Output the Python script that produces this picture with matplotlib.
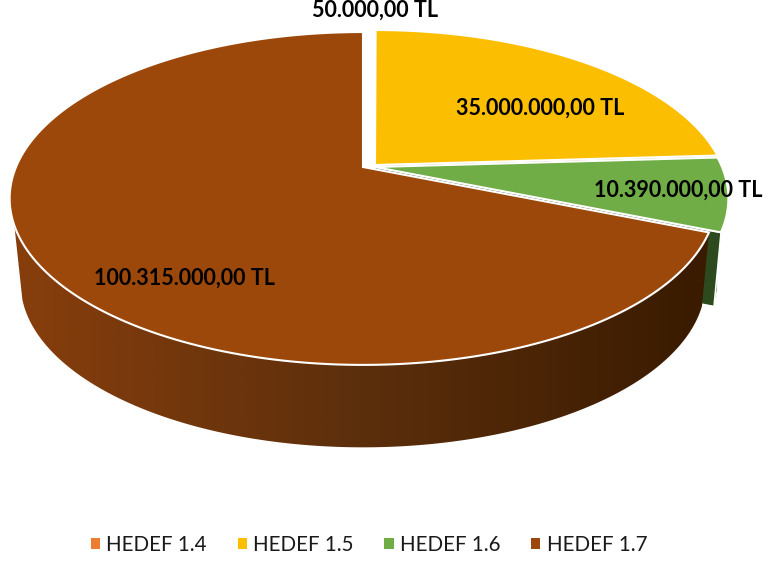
import numpy as np
import matplotlib
matplotlib.use("Agg")
import matplotlib.pyplot as plt
from matplotlib.patches import Patch, Polygon

plt.rcParams['font.family'] = ['Lato', 'DejaVu Sans']

# veriler
labels = ["HEDEF 1.4", "HEDEF 1.5", "HEDEF 1.6", "HEDEF 1.7"]
values = [50000, 35000000, 10390000, 100315000]
value_labels = ["50.000,00 TL", "35.000.000,00 TL", "10.390.000,00 TL", "100.315.000,00 TL"]
colors = ["#ED7D31", "#FCBE00", "#70AD47", "#9C480B"]

# dilimlerin merkez kaymasi (piksel)
shift_x = [12, 12, 12, 0]
shift_y = [-2, -2, 0, 0]
label_x = [375, 540, 678, 185]
label_y = [10, 108, 190, 278]

# perspektif: ust ve alt yuzey
TOP = dict(cy=167, rx=347, ry=160.5, k=0.189)
BOT = dict(cy=242, rx=331.5, ry=154, k=0.25)
CX = 363


def project(theta, disk, dx=0, dy=0):
    # theta: saat yonunde, tepeden derece
    t = np.radians(theta)
    u, v = np.sin(t), np.cos(t)
    w = 1 + disk['k'] * v
    return CX + dx + disk['rx'] * u / w, disk['cy'] + dy - disk['ry'] * v / w


def top_face(a0, a1, dx, dy):
    th = np.linspace(a0, a1, 200)
    x, y = project(th, TOP, dx, dy)
    return np.r_[CX + dx, x], np.r_[TOP['cy'] + dy, y]


def wall_points(a0, a1, dx, dy):
    th = np.linspace(a0, a1, 240)
    xt, yt = project(th, TOP, dx, dy)
    xb, yb = project(th, BOT, dx, dy)
    return np.c_[np.r_[xt, xb[::-1]], np.r_[yt, yb[::-1]]]


def radial_wall(ax, a, dx, dy, color, z):
    xt, yt = project(a, TOP, dx, dy)
    xb, yb = project(a, BOT, dx, dy)
    ax.fill([CX + dx, xt, xb, CX + dx], [TOP['cy'] + dy, yt, yb, BOT['cy'] + dy],
            color=color, ec='white', lw=1.0, zorder=z)


fig = plt.figure(figsize=(7.63, 5.62), dpi=100)
ax = fig.add_axes([0, 0, 1, 1])

# dilim acilari
total = sum(values)
edges = np.r_[0, np.cumsum(values)] / total * 360

# sari ve yesil dilimin yan yuzeyleri
green_dark = "#2D4A1E"
radial_wall(ax, edges[2], shift_x[1], shift_y[1], "#B5A57A", 1)
ax.fill(*wall_points(edges[2], edges[3], shift_x[2], shift_y[2]).T, color=green_dark, ec='white', lw=0.8, zorder=2)
radial_wall(ax, edges[3], shift_x[2], shift_y[2], green_dark, 3)

# kahverengi yan yuzey: soldan saga koyulasan gradyan
grad_x = np.linspace(0, 763, 300)
grad = np.zeros((1, 300, 3))
grad[0, :, 0] = np.interp(grad_x, [20, 360, 700], [135, 92, 58]) / 255
grad[0, :, 1] = np.interp(grad_x, [20, 360, 700], [62, 47, 27]) / 255
grad[0, :, 2] = np.interp(grad_x, [20, 360, 700], [12, 12, 0]) / 255
im = ax.imshow(grad, extent=(0, 763, 562, 0), aspect='auto', zorder=4)
clip = Polygon(wall_points(edges[3], 250, shift_x[3], shift_y[3]), closed=True, transform=ax.transData)
im.set_clip_path(clip)

ax.set_xlim(0, 763)
ax.set_ylim(562, 0)
ax.axis('off')

# ust yuzler
for i in range(4):
    xs, ys = top_face(edges[i], edges[i + 1], shift_x[i], shift_y[i])
    if i == 0:
        ax.fill(xs, ys, color=colors[i], lw=0, zorder=5)
    else:
        ax.fill(xs, ys, fc=colors[i], ec='white', lw=1.5, joinstyle='miter', zorder=6)

for i in range(4):
    ax.text(label_x[i], label_y[i], value_labels[i], ha='center', va='center',
            fontsize=15.5, fontweight='bold', color='black', zorder=8)

handles = [Patch(facecolor=c, edgecolor='none') for c in colors]
ax.legend(handles, labels, loc='center', bbox_to_anchor=(369 / 763, 1 - 545 / 562), ncol=4,
          frameon=False, fontsize=14.8, handlelength=0.45, handleheight=0.45,
          handletextpad=0.3, columnspacing=1.5, labelcolor='#1a1a1a')

fig.savefig("out.png", dpi=100, facecolor='white')
